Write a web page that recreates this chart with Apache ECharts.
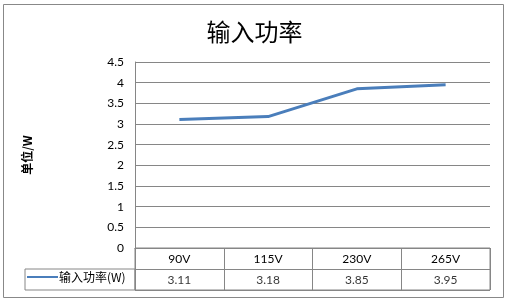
<!DOCTYPE html>
<html><head><meta charset="utf-8">
<script src="https://cdn.jsdelivr.net/npm/echarts@6/dist/echarts.min.js"></script>
<style>html,body{margin:0;padding:0;background:#fff}#c{width:509px;height:302px}</style>
</head><body><div id="c"></div>
<script>
var categories = ['90V', '115V', '230V', '265V'];
var values = [3.11, 3.18, 3.85, 3.95];
var seriesName = '输入功率(W)';
var titleText = '输入功率';
var yName = '单位/W';

var gridColor = '#868686';
var chart = echarts.init(document.getElementById('c'));
chart.setOption({
  animation: false,
  backgroundColor: '#fff',
  title: {text: titleText, left: 'center', top: 15, textStyle: {fontFamily: 'Noto Sans CJK SC', fontSize: 24, fontWeight: 'normal', color: '#000'}},
  graphic: [{type: 'rect', shape: {x: 3.5, y: 4.5, width: 500, height: 293}, style: {fill: 'none', stroke: '#888', lineWidth: 1}, silent: true}],
  legend: {left: 27, top: 271, itemWidth: 31, itemHeight: 12, itemGap: 0, padding: 0,
    textStyle: {fontFamily: 'Noto Sans CJK SC', fontSize: 12, color: '#000', padding: [0, 0, 0, -4]},
    data: [{name: seriesName, icon: 'path://M0,5.5 L31,5.5 L31,7.5 L0,7.5 Z'}]},
  grid: [
    {left: 135, right: 19, top: 62, bottom: 54},
    {left: 135, right: 19, top: 248, bottom: 12, show: true, borderColor: gridColor, borderWidth: 1},
    {left: 25, width: 110, top: 269, bottom: 12, show: true, borderColor: gridColor, borderWidth: 1}
  ],
  xAxis: [
    {type: 'category', gridIndex: 0, data: categories, boundaryGap: true, axisLine: {show: false}, axisTick: {show: false}, axisLabel: {show: false}},
    {type: 'category', gridIndex: 1, data: categories, position: 'top', boundaryGap: true,
      axisLine: {show: true, lineStyle: {color: gridColor}}, axisTick: {show: false},
      splitLine: {show: true, lineStyle: {color: gridColor}},
      axisLabel: {inside: true, margin: 5, fontFamily: 'Lato', fontSize: 12, color: '#000'}},
    {type: 'value', gridIndex: 2, show: false}
  ],
  yAxis: [
    {type: 'value', gridIndex: 0, min: 0, max: 4.5, interval: 0.5,
      name: yName, nameLocation: 'middle', nameGap: 102, nameRotate: 90,
      nameTextStyle: {fontFamily: 'Noto Sans CJK SC', fontSize: 12, fontWeight: 'bold', color: '#000'},
      axisLine: {show: true, lineStyle: {color: gridColor}}, axisTick: {show: false},
      splitLine: {lineStyle: {color: gridColor}},
      axisLabel: {margin: 11, fontFamily: 'Lato', fontSize: 12, color: '#000'}},
    {type: 'category', gridIndex: 1, data: ['cat', 'val'], inverse: true, axisLine: {show: false}, axisTick: {show: false}, axisLabel: {show: false},
      splitLine: {show: true, lineStyle: {color: gridColor}}},
    {type: 'value', gridIndex: 2, show: false}
  ],
  series: [
    {name: seriesName, type: 'line', xAxisIndex: 0, yAxisIndex: 0, data: values, showSymbol: false, symbol: 'none',
      lineStyle: {color: '#4A7EBB', width: 3}, itemStyle: {color: '#4A7EBB'}},
    {type: 'scatter', xAxisIndex: 1, yAxisIndex: 1, symbolSize: 0, silent: true,
      data: values.map(function (v, i) { return [categories[i], 'val', v]; }),
      label: {show: true, position: 'inside', offset: [0, 1], formatter: function (p) { return p.data[2].toFixed(2); }, fontFamily: 'Lato', fontSize: 12, color: '#000'}}
  ]
});
</script></body></html>
